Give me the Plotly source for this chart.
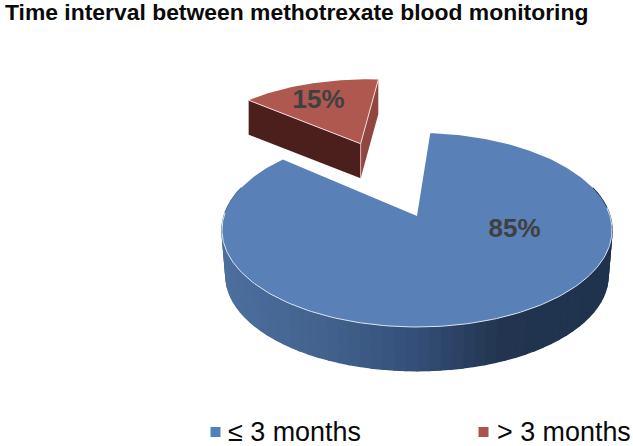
import numpy as np
import plotly.graph_objects as go

# ---- data ----
categories = ["≤ 3 months", "> 3 months"]
values = [85, 15]
labels = ["85%", "15%"]
title_text = "Time interval between methotrexate blood monitoring"

# ---- styles ----
TOP = ["#5A80B8", "#AE5850"]
SWATCH = ["#4F81BD", "#B0534D"]
TEXT = "#404040"
W, H = 633, 446

# ---- projection of a flat tilted disc to the hidden pixel-scaled axes ----
CX, CY, A, B, K = 417.0, 216.0, 193.0, 95.0, 0.144
START = 4.5            # degrees clockwise from the top
DEPTH = 46.0
PULL = 0.915
PULL_DIR = -21.0
SLICE_R = 0.96


def project(u, v, scale=1.0, dy=0.0):
    u, v = np.asarray(u, float), np.asarray(v, float)
    d = 1 + K * v
    return CX + scale * A * u / d, CY + dy + scale * B * (-v) / d


def disc(theta_deg):
    t = np.radians(theta_deg)
    return np.sin(t), np.cos(t)


shares = np.array(values, float) / sum(values) * 360
a0 = START
a1 = a0 + shares[0]
a2 = a1 + shares[1]

fig = go.Figure()


def poly(x, y, fill, line=None, width=0.0):
    fig.add_trace(go.Scatter(
        x=list(x), y=list(y), mode="lines", fill="toself", fillcolor=fill,
        line=dict(color=line or fill, width=width), hoverinfo="skip", showlegend=False))


def mix(stops, x):
    xs = [s[0] for s in stops]
    cols = np.array([[int(s[1][i:i + 2], 16) for i in (1, 3, 5)] for s in stops], float)
    rgb = [np.interp(x, xs, cols[:, i]) for i in range(3)]
    return "rgb(%d,%d,%d)" % tuple(int(c) for c in rgb)


WALL = [(226, "#4D6F9E"), (316, "#44648F"), (413, "#34507A"), (500, "#23354F"), (611, "#1F3350")]

# main slice: curved outer wall as narrow shaded strips
edges = np.linspace(72, 288, 73)
for t0, t1 in zip(edges[:-1], edges[1:]):
    ts = np.linspace(t0, t1, 4)
    u, v = disc(ts)
    xa, ya = project(u, v)
    xb, yb = project(u, v, scale=0.98, dy=DEPTH)
    col = mix(WALL, float(np.mean(xa)))
    poly(np.r_[xa, xb[::-1], xa[0]], np.r_[ya, yb[::-1], ya[0]], col, col, 1.4)

# main slice: top face
th = np.linspace(a0, a1, 300)
u, v = disc(th)
x, y = project(u, v)
tx, ty = project(0, 0)
poly(np.r_[float(tx), x, float(tx)], np.r_[float(ty), y, float(ty)], TOP[0])

# thin light rim along the front of the main slice
front = np.linspace(85, 272, 160)
u, v = disc(front)
x, y = project(u, v)
fig.add_trace(go.Scatter(x=x, y=y, mode="lines", line=dict(color="#DCE6F2", width=1),
                         hoverinfo="skip", showlegend=False))

# exploded slice
pu, pv = disc(PULL_DIR)
pu, pv = pu * PULL, pv * PULL
th = np.linspace(a1, a2, 60)
u, v = disc(th)
sx, sy = project(SLICE_R * u + pu, SLICE_R * v + pv)
ax, ay = project(pu, pv)
ax, ay = float(ax), float(ay)
D2 = 34.5

# cut face on the right of the tip
poly([ax, sx[-1], sx[-1], ax, ax], [ay, sy[-1], sy[-1] + D2, ay + D2, ay], "#8F4640")
# cut face on the left of the tip
poly([sx[0], ax, ax, sx[0], sx[0]], [sy[0], ay, ay + D2, sy[0] + D2, sy[0]], "#4A1F1C")
# top face
poly(np.r_[ax, sx, ax], np.r_[ay, sy, ay], TOP[1])
# light edges
fig.add_trace(go.Scatter(x=[sx[0], ax, sx[-1]], y=[sy[0], ay, sy[-1]], mode="lines",
                         line=dict(color="#F2DCDB", width=1), hoverinfo="skip", showlegend=False))
fig.add_trace(go.Scatter(x=[ax, ax], y=[ay, ay + D2], mode="lines",
                         line=dict(color="#D9B5B2", width=1), hoverinfo="skip", showlegend=False))

# percentage labels
lu, lv = disc(a0 + shares[0] * 0.335)
lx, ly = project(lu * 0.517, lv * 0.517)
mu, mv = disc(a1 + shares[1] * 0.44)
nx, ny = project(mu * 0.665 + pu, mv * 0.665 + pv)
fig.add_trace(go.Scatter(
    x=[float(lx), float(nx)], y=[float(ly), float(ny)], mode="text", text=labels,
    textposition="middle center",
    textfont=dict(family="Liberation Sans", size=26, color=TEXT, weight="bold"),
    hoverinfo="skip", showlegend=False))

# legend row
LEG_X = [215.5, 483.5]
LEG_Y = [432, 432]
LEG_TEXT_X = [228, 497]
fig.add_trace(go.Scatter(
    x=LEG_X, y=LEG_Y, mode="markers",
    marker=dict(symbol="square", size=10, color=SWATCH),
    hoverinfo="skip", showlegend=False, cliponaxis=False))
fig.add_trace(go.Scatter(
    x=LEG_TEXT_X, y=[v + 2.5 for v in LEG_Y], mode="text", text=categories,
    textposition="middle right",
    textfont=dict(family="Liberation Sans", size=26.9, color="#0A0A0A"),
    hoverinfo="skip", showlegend=False, cliponaxis=False))

fig.update_layout(
    width=W, height=H,
    margin=dict(l=0, r=0, t=0, b=0),
    paper_bgcolor="white", plot_bgcolor="white",
    showlegend=False,
    title=dict(text=title_text, x=5 / W, xanchor="left", xref="paper",
               y=1 - 12 / H, yanchor="middle", yref="container",
               font=dict(family="Liberation Sans", size=22.9, color="#0A0A0A", weight="bold")),
    xaxis=dict(range=[0, W], visible=False),
    yaxis=dict(range=[H, 0], visible=False),
)
fig.write_html("out.html", config=dict(displayModeBar=False),
               post_script="document.body.style.margin='0';")
